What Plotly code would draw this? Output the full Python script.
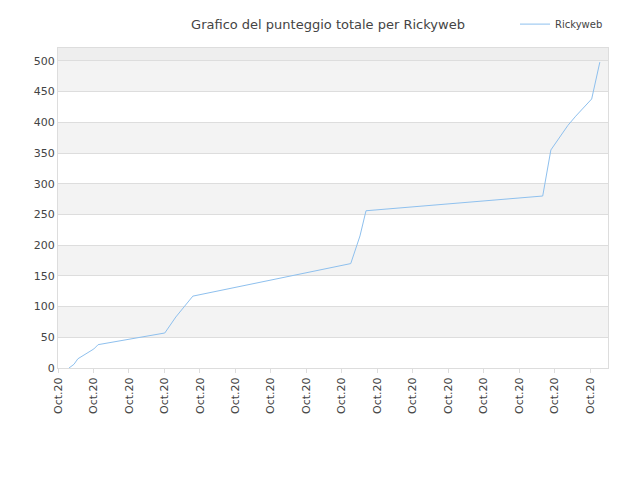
import plotly.graph_objects as go

x_vals = [0.31,0.45,0.56,0.7,0.85,1.01,1.13,3.01,3.32,3.8,8.25,8.51,8.68,13.66,13.89,14.37,14.59,15.04,15.27]
y_vals = [0,6,15,20,26,31,38,57,83,117,170,215,256,280,355,395,410,438,498]
tick_pos = list(range(16))
tick_labels = ["Oct.20"]*16
series_name = "Rickyweb"

fig = go.Figure(go.Scatter(x=x_vals, y=y_vals, mode="lines", name=series_name,
                           line=dict(color="#8ec0ee", width=1)))
shapes = []
for lo in [50,150,250,350,450]:
    shapes.append(dict(type="rect", xref="paper", yref="y", x0=0, x1=1, y0=lo, y1=lo+50,
                       fillcolor="#f3f3f3", line_width=0, layer="below"))
shapes.append(dict(type="rect", xref="paper", yref="y", x0=0, x1=1, y0=500, y1=521,
                   fillcolor="#eeeeee", line_width=0, layer="below"))
fig.update_layout(
    width=640, height=480, margin=dict(l=50, r=40, t=40, b=120, autoexpand=False),
    paper_bgcolor="white", plot_bgcolor="white", shapes=shapes,
    title=dict(text="Grafico del punteggio totale per Rickyweb", x=0.5, y=0.975,
               font=dict(family="DejaVu Sans", size=13, color="#444")),
    font=dict(family="DejaVu Sans", size=11, color="#444"),
    showlegend=True,
    legend=dict(x=1, xanchor="right", y=1.12, yanchor="top", font=dict(size=10), bgcolor="rgba(0,0,0,0)"),
    xaxis=dict(range=[0,15.5], tickvals=tick_pos, ticktext=tick_labels, tickangle=-90,
               showgrid=False, showline=True, linecolor="#dddddd", mirror=True, zeroline=False,
               ticks="outside", ticklen=4, tickcolor="#dddddd", automargin=False),
    yaxis=dict(range=[0,521], tickvals=list(range(0,501,50)), gridcolor="#dddddd",
               showline=True, linecolor="#dddddd", mirror=True, zeroline=False, automargin=False),
)
fig.write_html("out.html")
